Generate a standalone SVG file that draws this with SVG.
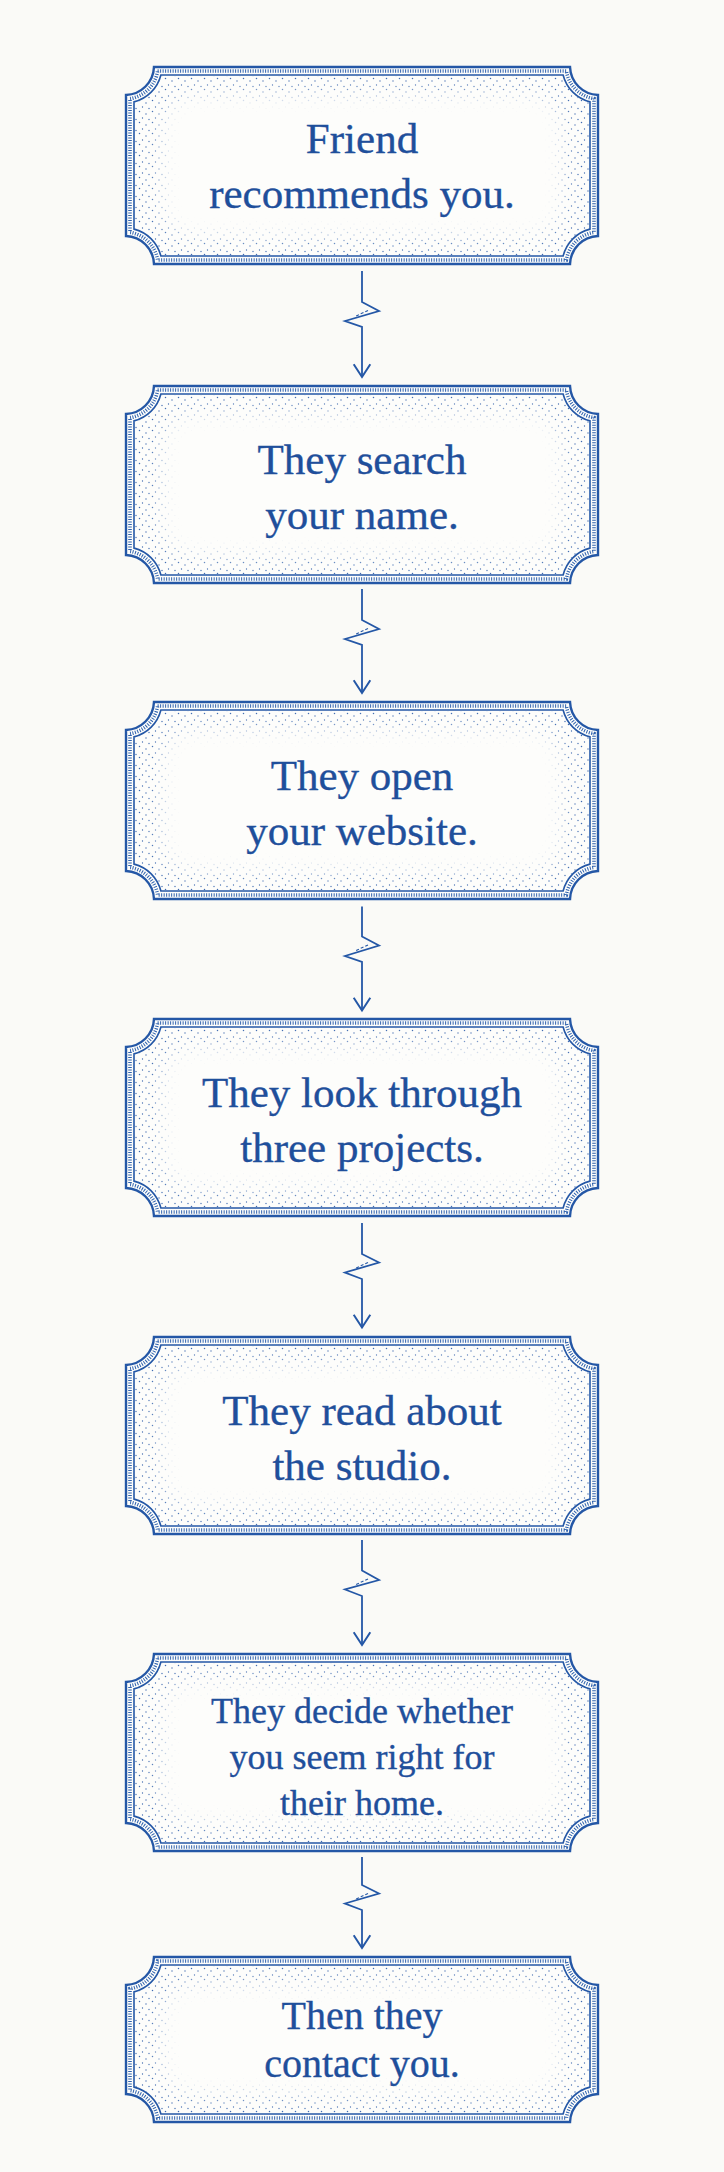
<svg xmlns="http://www.w3.org/2000/svg" xmlns:xlink="http://www.w3.org/1999/xlink" width="724" height="2172" viewBox="0 0 724 2172">
<style>
.bg{fill:#fafaf7}
.outer{fill:none;stroke:#2457a6;stroke-width:2.4}
.band{fill:none;stroke:#2f62ae;stroke-width:3.6;stroke-dasharray:1 1.5}
.inner{fill:none;stroke:#2457a6;stroke-width:1.6}
.lbl{font-family:"Liberation Serif","Times New Roman",serif;fill:#1f4f9b;stroke:#1f4f9b;stroke-width:0.35;text-anchor:middle}
.conn{fill:none;stroke:#2457a6;stroke-width:1.8;stroke-linejoin:miter}
.tick{fill:none;stroke:#2457a6;stroke-width:1.1;stroke-dasharray:3 2}
</style>
<defs>
<pattern id="dots" patternUnits="userSpaceOnUse" width="13" height="11">
<circle cx="1.5" cy="1.5" r="0.75" fill="#2a5aa8"/>
<circle cx="8" cy="4" r="0.7" fill="#2a5aa8"/>
<circle cx="4.5" cy="8" r="0.65" fill="#2a5aa8"/>
<circle cx="11" cy="9.5" r="0.7" fill="#2a5aa8"/>
</pattern>
<filter id="blur" x="-0.3" y="-0.6" width="1.6" height="2.2"><feGaussianBlur stdDeviation="9"/></filter>
<mask id="mA" maskUnits="userSpaceOnUse" x="0" y="0" width="474" height="199">
<path d="M36.5,10 H437.5 A38,38 0 0 0 464,36.5 V162.5 A38,38 0 0 0 437.5,189 H36.5 A38,38 0 0 0 10,162.5 V36.5 A38,38 0 0 0 36.5,10 Z" fill="#fff"/>
<rect x="36" y="28" width="402" height="143" rx="34" fill="#000" filter="url(#blur)"/>
</mask>
<mask id="mB" maskUnits="userSpaceOnUse" x="0" y="0" width="474" height="167">
<path d="M36.5,10 H437.5 A38,38 0 0 0 464,36.5 V130.5 A38,38 0 0 0 437.5,157 H36.5 A38,38 0 0 0 10,130.5 V36.5 A38,38 0 0 0 36.5,10 Z" fill="#fff"/>
<rect x="36" y="28" width="402" height="111" rx="34" fill="#000" filter="url(#blur)"/>
</mask>
<g id="frameA">
<path d="M28.98,1 H445.02 A29,29 0 0 0 473,28.98 V170.02 A29,29 0 0 0 445.02,198 H28.98 A29,29 0 0 0 1,170.02 V28.98 A29,29 0 0 0 28.98,1 Z" fill="#fdfdfb"/>
<rect x="0" y="0" width="474" height="199" fill="url(#dots)" mask="url(#mA)" opacity="0.9"/>
<path class="outer" d="M28.98,1 H445.02 A29,29 0 0 0 473,28.98 V170.02 A29,29 0 0 0 445.02,198 H28.98 A29,29 0 0 0 1,170.02 V28.98 A29,29 0 0 0 28.98,1 Z"/>
<path class="band" d="M32.62,5 H441.38 A33,33 0 0 0 469,32.62 V166.38 A33,33 0 0 0 441.38,194 H32.62 A33,33 0 0 0 5,166.38 V32.62 A33,33 0 0 0 32.62,5 Z"/>
<path class="inner" d="M35.89,9 H438.11 A37,37 0 0 0 465,35.89 V163.11 A37,37 0 0 0 438.11,190 H35.89 A37,37 0 0 0 9,163.11 V35.89 A37,37 0 0 0 35.89,9 Z"/>
</g>
<g id="frameB">
<path d="M28.98,1 H445.02 A29,29 0 0 0 473,28.98 V138.02 A29,29 0 0 0 445.02,166 H28.98 A29,29 0 0 0 1,138.02 V28.98 A29,29 0 0 0 28.98,1 Z" fill="#fdfdfb"/>
<rect x="0" y="0" width="474" height="167" fill="url(#dots)" mask="url(#mB)" opacity="0.9"/>
<path class="outer" d="M28.98,1 H445.02 A29,29 0 0 0 473,28.98 V138.02 A29,29 0 0 0 445.02,166 H28.98 A29,29 0 0 0 1,138.02 V28.98 A29,29 0 0 0 28.98,1 Z"/>
<path class="band" d="M32.62,5 H441.38 A33,33 0 0 0 469,32.62 V134.38 A33,33 0 0 0 441.38,162 H32.62 A33,33 0 0 0 5,134.38 V32.62 A33,33 0 0 0 32.62,5 Z"/>
<path class="inner" d="M35.89,9 H438.11 A37,37 0 0 0 465,35.89 V131.11 A37,37 0 0 0 438.11,158 H35.89 A37,37 0 0 0 9,131.11 V35.89 A37,37 0 0 0 35.89,9 Z"/>
</g>
<marker id="arr" viewBox="0 0 16 20" refX="13.7" refY="10" markerWidth="16" markerHeight="20" markerUnits="userSpaceOnUse" orient="auto">
<path d="M1,1.7 L13.7,10 L1,18.3" fill="none" stroke="#2457a6" stroke-width="2"/>
</marker>
</defs>
<rect class="bg" x="0" y="0" width="724" height="2172"/>

<g id="connectors">
<path class="conn" d="M362,271 V302 L379,311 L345,321 L362,327 V377" marker-end="url(#arr)"/>
<path class="tick" d="M368,310.5 L356,316"/>
<path class="conn" d="M362,589 V620 L379,629 L345,639 L362,645 V693" marker-end="url(#arr)"/>
<path class="tick" d="M368,628.5 L356,634"/>
<path class="conn" d="M362,906.5 V936.5 L379,945.5 L345,956 L362,962 V1010.5" marker-end="url(#arr)"/>
<path class="tick" d="M368,945 L356,950.5"/>
<path class="conn" d="M362,1223 V1254 L379,1262.5 L345,1272.5 L362,1279 V1327.5" marker-end="url(#arr)"/>
<path class="tick" d="M368,1262.5 L356,1268"/>
<path class="conn" d="M362,1540 V1570.5 L379,1580 L345,1589.5 L362,1596 V1645" marker-end="url(#arr)"/>
<path class="tick" d="M368,1579 L356,1584.5"/>
<path class="conn" d="M362,1857 V1885 L379,1893.5 L345,1903.5 L362,1910 V1948" marker-end="url(#arr)"/>
<path class="tick" d="M368,1893.5 L356,1899"/>
</g>

<g id="node1">
<use xlink:href="#frameA" href="#frameA" x="125" y="66"/>
<text class="lbl" font-size="43"><tspan x="362" y="152.5">Friend</tspan><tspan x="362" y="207.5">recommends you.</tspan></text>
</g>
<g id="node2">
<use xlink:href="#frameA" href="#frameA" x="125" y="385"/>
<text class="lbl" font-size="43"><tspan x="362" y="474">They search</tspan><tspan x="362" y="529">your name.</tspan></text>
</g>
<g id="node3">
<use xlink:href="#frameA" href="#frameA" x="125" y="701"/>
<text class="lbl" font-size="43"><tspan x="362" y="790">They open</tspan><tspan x="362" y="845">your website.</tspan></text>
</g>
<g id="node4">
<use xlink:href="#frameA" href="#frameA" x="125" y="1018"/>
<text class="lbl" font-size="43"><tspan x="362" y="1107">They look through</tspan><tspan x="362" y="1162">three projects.</tspan></text>
</g>
<g id="node5">
<use xlink:href="#frameA" href="#frameA" x="125" y="1336"/>
<text class="lbl" font-size="43"><tspan x="362" y="1425">They read about</tspan><tspan x="362" y="1480">the studio.</tspan></text>
</g>
<g id="node6">
<use xlink:href="#frameA" href="#frameA" x="125" y="1653"/>
<text class="lbl" font-size="36"><tspan x="362" y="1722.5">They decide whether</tspan><tspan x="362" y="1769">you seem right for</tspan><tspan x="362" y="1815">their home.</tspan></text>
</g>
<g id="node7">
<use xlink:href="#frameB" href="#frameB" x="125" y="1956"/>
<text class="lbl" font-size="40"><tspan x="362" y="2029">Then they</tspan><tspan x="362" y="2077">contact you.</tspan></text>
</g>
</svg>
